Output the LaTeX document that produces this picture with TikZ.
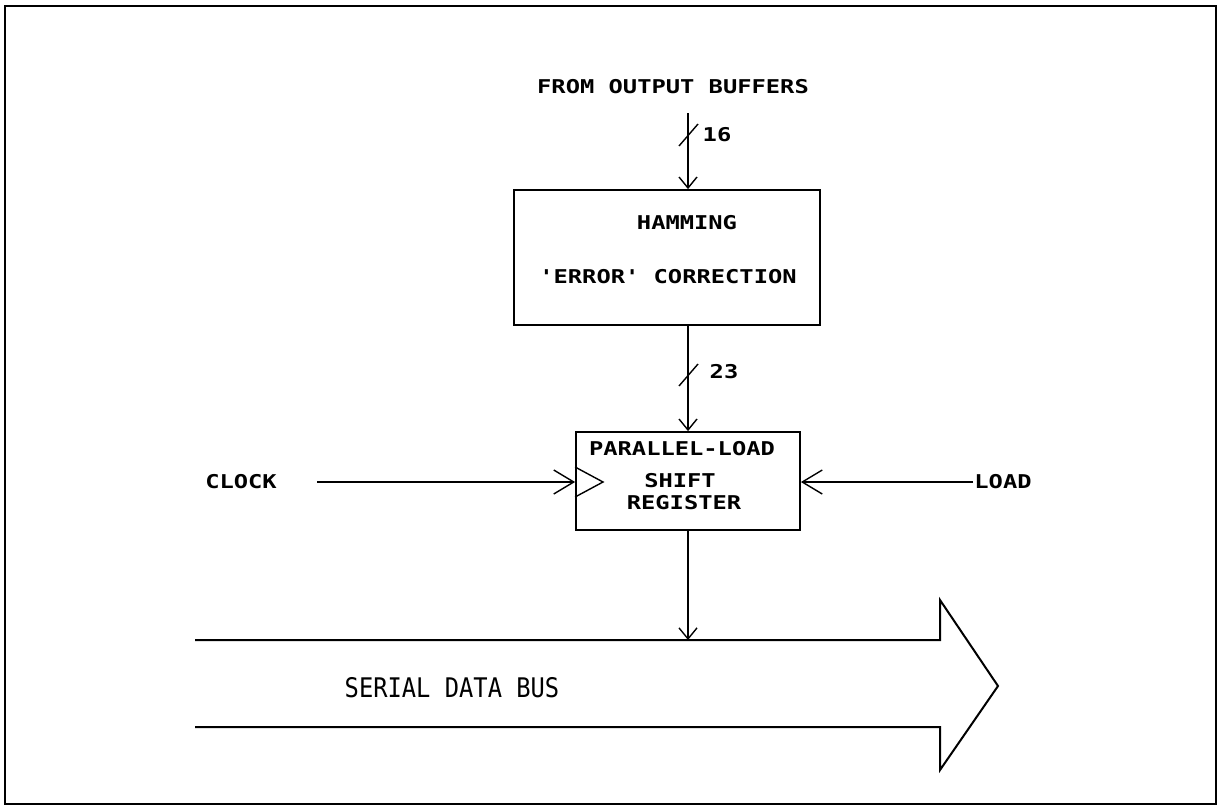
\documentclass[tikz,border=0pt]{standalone}
\usepackage{fontspec}
\usepackage{graphicx}
\usetikzlibrary{arrows.meta}
\newfontfamily\plotfont{DejaVu Sans Mono}
\newcommand{\pt}[1]{\scalebox{1.25}[1]{#1}}
\begin{document}
\begin{tikzpicture}[x=1pt,y=-1pt,
  lbl/.style={inner sep=0pt,font=\plotfont\bfseries\fontsize{19}{21}\selectfont},
  blk/.style={draw,line width=1.8pt,inner sep=0pt},
  wire/.style={line width=1.4pt},
  arr/.style={wire,-{Straight Barb[length=11pt,width=18pt,line width=1.4pt]}},
  bigarr/.style={wire,-{Straight Barb[length=20pt,width=24pt,line width=1.4pt]}},
  bus/.style={line width=2pt,line join=miter}]
\useasboundingbox (0,0) rectangle (1220,808);
\draw[line width=1.5pt] (5,6) rectangle (1216,804);

% texts
\node[lbl] (from) at (673,87) {\pt{FROM OUTPUT BUFFERS}};

% Hamming box
\node[blk,minimum width=306pt,minimum height=135pt] (ham) at (667,257.5) {};
\node[lbl] (hamt1) at (687,223) {\pt{HAMMING}};
\node[lbl] (hamt2) at (668,277) {\pt{'ERROR' CORRECTION}};

% shift register
\node[blk,minimum width=224pt,minimum height=98pt] (sr) at (688,481) {};
\node[lbl] (srt1) at (682,449) {\pt{PARALLEL-LOAD}};
\node[lbl] (srt2) at (680,481) {\pt{SHIFT}};
\node[lbl] (srt3) at (684,503) {\pt{REGISTER}};
\draw[wire] (sr.west |- 0,467) -- (603,482) -- (sr.west |- 0,497);

\node[lbl] (clk) at (241,482) {\pt{CLOCK}};
\node[lbl] (load) at (1003,482) {\pt{LOAD}};

% bus
\coordinate (busTL) at (195,640);
\coordinate (busBL) at (195,727);
\coordinate (busin) at (688,640);
\draw[bus] (busTL) -- (940,640) -- (940,600) -- (998,686) -- (940,770) -- (940,727) -- (busBL);
\node[inner sep=0pt,font=\plotfont\fontsize{27}{30}\selectfont] (bustext) at (452,688) {\scalebox{0.88}[1]{SERIAL DATA BUS}};

% connectors
\coordinate (in16) at (688,113);
\draw[arr] (in16) -- (ham.north -| in16);
\draw[wire] (679,146) -- (698,124);
\node[lbl] (n16) at (717,135) {\pt{16}};

\draw[arr] (ham.south -| sr.north) -- (sr.north);
\draw[wire] (679,386) -- (698,364);
\node[lbl] (n23) at (724,372) {\pt{23}};

\coordinate (clkstart) at (317,482);
\draw[bigarr] (clkstart) -- (sr.west |- clkstart);
\coordinate (loadstart) at (973,482);
\draw[bigarr] (loadstart) -- (sr.east |- loadstart);

\draw[arr] (sr.south) -- (busin);
\end{tikzpicture}
\end{document}
